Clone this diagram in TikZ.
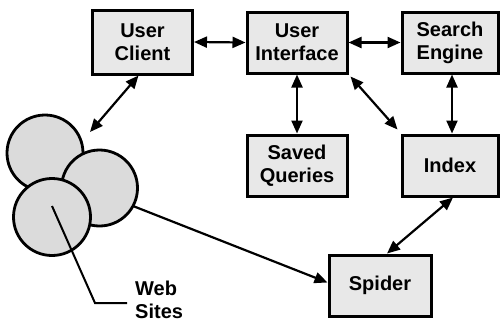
\documentclass[tikz,border=0pt]{standalone}
\usepackage{fontspec}
\setmainfont{Liberation Sans}
\usetikzlibrary{arrows.meta}
\begin{document}
\begin{tikzpicture}[x=1pt,y=-1pt,
  box/.style={draw=black, line width=3pt, fill=gray!18, inner sep=0pt,
    font=\fontsize{20}{23}\selectfont\bfseries, align=center},
  site/.style={draw=black, line width=2.8pt, fill=gray!28},
  biarrow/.style={line width=2.2pt, {Triangle[length=13pt,width=11pt]}-{Triangle[length=13pt,width=11pt]}},
  onearrow/.style={line width=2.2pt, -{Triangle[length=13pt,width=11pt]}},
  pointer/.style={line width=2pt},
  label/.style={font=\fontsize{20}{23}\selectfont\bfseries, align=left, inner sep=0pt}]
\useasboundingbox (0,0) rectangle (500,322);
% web sites
\draw[site] (45,153) circle[radius=38];
\draw[site] (99.5,188) circle[radius=38];
\draw[site] (52,217) circle[radius=38.5];
\coordinate (siteA) at (90,132);
\coordinate (siteB) at (133,206);
\coordinate (siteC) at (52,206);
\coordinate (bend) at (95,303);
\coordinate (pend) at (127,303);
% boxes
\node[box, minimum width=100pt, minimum height=64pt] (uc) at (142.5,42) {User\\Client};
\node[box, minimum width=100pt, minimum height=61pt] (ui) at (297,42.5) {User\\Interface};
\node[box, minimum width=96pt, minimum height=61pt] (se) at (450,42.5) {Search\\Engine};
\node[box, minimum width=100pt, minimum height=61pt] (sq) at (297,165.5) {Saved\\Queries};
\node[box, minimum width=96pt, minimum height=61pt] (ix) at (450,165.5) {Index};
\node[box, minimum width=102pt, minimum height=61pt] (sp) at (380,285.5) {Spider};
\node[label, anchor=north west] (ws) at (135,281) {Web\\Sites};
% connectors
\draw[biarrow] (uc.east) -- (ui.west);
\draw[biarrow] (ui.east) -- (se.west);
\draw[biarrow] (ui.south) -- (sq.north);
\draw[biarrow] ([xshift=2pt]se.south) -- ([xshift=2pt]ix.north);
\draw[biarrow] ([xshift=2pt,yshift=-2pt]ui.south east) -- ([xshift=-3pt,yshift=4pt]ix.north west);
\draw[biarrow] ([xshift=3pt]ix.south) -- ([xshift=7pt]sp.north);
\draw[biarrow] ([xshift=-4pt]uc.south) -- (siteA);
\draw[onearrow] (siteB) -- ([yshift=3pt]sp.west);
\draw[pointer] (siteC) -- (bend) -- (pend);
\end{tikzpicture}
\end{document}
